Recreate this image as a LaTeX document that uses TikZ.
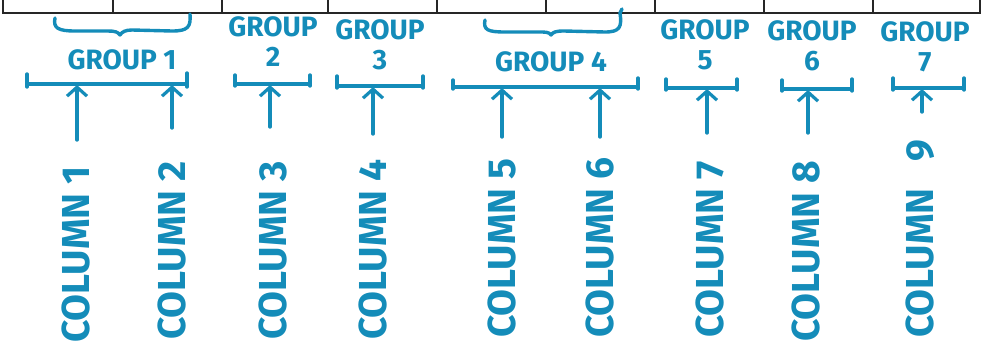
\documentclass[tikz,border=0pt]{standalone}
\usepackage{fontspec}
\setmainfont{Fira Sans}
\usetikzlibrary{arrows.meta}
\definecolor{pen}{RGB}{20,140,185}
\tikzset{
  grid/.style={line width=1.6pt, draw=black!85},
  ink/.style={draw=pen, line width=3.4pt, line cap=round, line join=round},
  arr/.style={ink, -{Straight Barb[length=9pt,width=20pt,line width=3.2pt]}},
  grouplbl/.style={text=pen, font=\bfseries\fontsize{28}{30}\selectfont, align=center, inner sep=0pt},
  collbl/.style={text=pen, font=\bfseries\fontsize{39}{42}\selectfont, rotate=90, anchor=west, inner sep=0pt}
}
\begin{document}
\begin{tikzpicture}[x=1pt,y=-1pt]
\useasboundingbox (0,0) rectangle (981,349);
% table row (cut off at the top)
\draw[grid] (3,0) -- (3,13) -- (980,13) -- (980,0);
\foreach \xx in {113,222,328,437,546,655,764,873} \draw[grid] (\xx,0) -- (\xx,13);
% braces
\draw[ink] (55,18) .. controls (53,28) and (58,31) .. (75,31) -- (108,31)
  .. controls (115,31) and (118,32) .. (120,35) .. controls (122,32) and (125,30) .. (132,30)
  -- (172,31) .. controls (188,31) and (191,27) .. (190,14);
\draw[ink] (485,20) .. controls (483,30) and (488,32) .. (505,32) -- (538,32)
  .. controls (546,32) and (549,32) .. (551,35) .. controls (553,32) and (556,31) .. (564,31)
  -- (605,32) .. controls (620,32) and (622,27) .. (620,13) -- (622,9);
% group labels
\node[grouplbl] (g1) at (122,60) {GROUP 1};
\node[grouplbl] (g2) at (273,42) {GROUP\\2};
\node[grouplbl] (g3) at (380,45) {GROUP\\3};
\node[grouplbl] (g4) at (551,62) {GROUP 4};
\node[grouplbl] (g5) at (705,45) {GROUP\\5};
\node[grouplbl] (g6) at (812,46) {GROUP\\6};
\node[grouplbl] (g7) at (925,47) {GROUP\\7};
% group bars
\draw[ink] (27,74) -- (27,87) (27,84) -- (187,84) (187,73) -- (187,87);
\draw[ink] (235,75) -- (235,86) (235,84) -- (310,84) (310,75) -- (310,86);
\draw[ink] (337,76) -- (337,88) (337,86) -- (423,86) (423,76) -- (423,88);
\draw[ink] (453,80) -- (453,89) (453,87) -- (638,87) (638,78) -- (638,89);
\draw[ink] (666,79) -- (666,90) (666,88) -- (737,88) (737,79) -- (737,90);
\draw[ink] (782,80) -- (782,91) (782,89) -- (852,89) (852,79) -- (852,91);
\draw[ink] (893,78) -- (893,90) (893,88) -- (964,88) (964,78) -- (964,90);
% column labels
\node[collbl] (c1) at (76,343) {COLUMN 1};
\node[collbl] (c2) at (172,340) {COLUMN 2};
\node[collbl] (c3) at (273,340) {COLUMN 3};
\node[collbl] (c4) at (373,340) {COLUMN 4};
\node[collbl] (c5) at (502,338) {COLUMN 5};
\node[collbl] (c6) at (600,338) {COLUMN 6};
\node[collbl] (c7) at (710,338) {COLUMN 7};
\node[collbl] (c8) at (806,342) {COLUMN 8};
\node[collbl] (c9) at (920,338) {COLUMN\hspace{0.7em}9};
% arrow ends
\coordinate (t1) at (77,140);  \coordinate (h1) at (77,85);
\coordinate (t2) at (172,128); \coordinate (h2) at (172,85);
\coordinate (t3) at (270,127); \coordinate (h3) at (270,85);
\coordinate (t4) at (373,134); \coordinate (h4) at (373,87);
\coordinate (t5) at (502,137); \coordinate (h5) at (502,88);
\coordinate (t6) at (600,137); \coordinate (h6) at (600,88);
\coordinate (t7) at (707,133); \coordinate (h7) at (707,89);
\coordinate (t8) at (808,133); \coordinate (h8) at (808,90);
\coordinate (t9) at (922,112); \coordinate (h9) at (922,89);
\foreach \i in {1,...,9} \draw[arr] (t\i) -- (h\i);
\end{tikzpicture}
\end{document}
